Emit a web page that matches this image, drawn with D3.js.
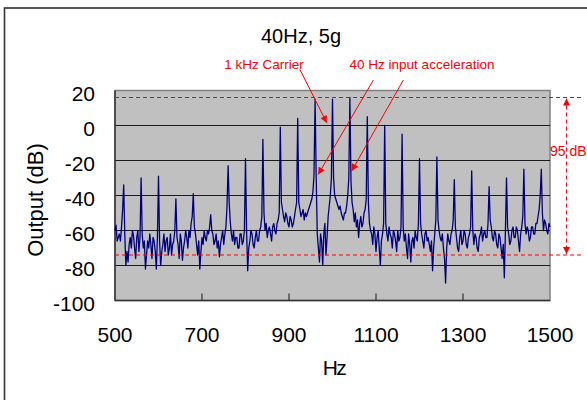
<!DOCTYPE html>
<html>
<head>
<meta charset="utf-8">
<script src="https://cdn.jsdelivr.net/npm/d3@7"></script>
<style>
body { margin: 0; background: #fff; }
text { font-family: "Liberation Sans", Arial, sans-serif; }
</style>
</head>
<body>
<div id="chart"></div>
<script>
// spectrum, 500..1500 Hz every 2.5 Hz (one row = 50 Hz)
const freqStart = 500;
const freqEnd = 1500;
const freqStep = 2.5;
const outputDb = [
    -60, -57, -66, -64, -62, -66, -58, -48, -34, -62, -80, -72, -78, -68, -64, -70, -60, -63, -70, -76,
    -64, -60, -72, -64, -30, -62, -70, -66, -82, -74, -66, -70, -62, -68, -76, -64, -66, -72, -82, -64,
    -29, -66, -80, -72, -68, -62, -72, -66, -64, -74, -70, -62, -74, -68, -66, -60, -42, -64, -68, -76,
    -62, -66, -77, -70, -66, -60, -64, -70, -60, -64, -56, -52, -39, -58, -62, -68, -74, -66, -82, -72,
    -64, -68, -60, -64, -66, -60, -62, -58, -51, -60, -62, -68, -66, -62, -70, -66, -75, -68, -64, -60,
    -68, -62, -58, -46, -23, -44, -55, -62, -66, -60, -68, -64, -64, -70, -70, -62, -62, -68, -66, -60,
    -19, -60, -83, -70, -66, -60, -62, -68, -70, -64, -60, -66, -66, -60, -58, -52, -8, -50, -60, -56,
    -64, -60, -58, -62, -66, -58, -56, -60, -62, -56, -54, -50, -1, -44, -48, -52, -55, -50, -52, -56,
    -58, -52, -54, -58, -56, -52, -48, -44, 4, -44, -48, -52, -50, -48, -54, -50, -52, -50, -48, -46,
    -44, -42, -38, -28, 15, -30, -62, -70, -78, -62, -66, -80, -62, -56, -74, -64, -52, -46, -40, -30,
    15, -30, -40, -42, -44, -46, -48, -46, -50, -52, -54, -50, -50, -46, -40, -30, 16, -32, -44, -48,
    -55, -50, -58, -54, -64, -56, -52, -58, -56, -50, -48, -42, 5, -44, -56, -60, -62, -68, -58, -62,
    -72, -64, -60, -70, -80, -66, -62, -56, 0, -56, -62, -66, -58, -62, -64, -70, -60, -62, -66, -72,
    -60, -66, -64, -58, -5, -58, -66, -62, -70, -76, -62, -68, -78, -66, -64, -70, -60, -64, -66, -56,
    -19, -56, -62, -66, -70, -62, -60, -66, -64, -68, -72, -66, -83, -70, -62, -54, -18, -54, -60, -64,
    -66, -62, -70, -76, -90, -70, -62, -66, -68, -62, -60, -54, -31, -58, -64, -70, -72, -64, -60, -68,
    -66, -60, -62, -68, -70, -64, -62, -58, -26, -60, -68, -62, -64, -70, -72, -64, -62, -58, -66, -62,
    -60, -64, -64, -56, -35, -54, -58, -64, -66, -60, -62, -68, -70, -62, -64, -70, -76, -68, -87, -60,
    -30, -58, -62, -68, -66, -60, -58, -64, -64, -58, -60, -66, -72, -62, -58, -52, -25, -56, -62, -58,
    -60, -66, -64, -58, -58, -62, -62, -56, -56, -52, -48, -40, -25, -50, -60, -54, -56, -60, -62, -56,
    -58
];
const yTicks = [20, 0, -20, -40, -60, -80, -100];
const xTicks = [500, 700, 900, 1100, 1300, 1500];
const refLevels = [16, -74];
const spanLabel = '95 dB';
const spanFreq = 1538;

// annotation arrows: [from freq, from dB, to freq, to dB]
const carrierArrows = [[925, 32, 987, 1.5]];
const inputArrows = [[1094, 26, 967, -28], [1163, 26, 1044, -26]];

const width = 587, height = 400;
const margin = { left: 115, top: 90.5, right: 37, bottom: 99.5 };

const x = d3.scaleLinear().domain([freqStart, freqEnd]).range([margin.left, width - margin.right]);
const y = d3.scaleLinear().domain([-100, 20]).range([height - margin.bottom, margin.top]);

const data = outputDb.map((v, i) => ({ f: freqStart + i * freqStep, v: v }));

const svg = d3.select('#chart').append('svg')
    .attr('width', width)
    .attr('height', height);

const red = '#ff0000';
svg.append('defs').append('marker')
    .attr('id', 'head')
    .attr('viewBox', '0 0 10 10')
    .attr('refX', 10).attr('refY', 5)
    .attr('markerWidth', 8).attr('markerHeight', 7)
    .attr('markerUnits', 'userSpaceOnUse')
    .attr('orient', 'auto-start-reverse')
    .append('path').attr('d', 'M0,0L10,5L0,10z').attr('fill', red);

// outer chart frame
svg.append('rect')
    .attr('x', 4.5).attr('y', 8)
    .attr('width', 700).attr('height', 500)
    .attr('fill', 'none').attr('stroke', '#333').attr('stroke-width', 1.6);

// plot area
const x0 = x(freqStart), x1 = x(freqEnd), yTop = y(20), yBot = y(-100);
svg.append('rect')
    .attr('x', x0).attr('y', yTop)
    .attr('width', x1 - x0).attr('height', yBot - yTop)
    .attr('fill', '#c0c0c0').attr('stroke', '#808080').attr('stroke-width', 1.5);

svg.append('g')
    .selectAll('line').data(yTicks.filter(d => d > -100 && d < 20))
    .enter().append('line')
    .attr('x1', x0).attr('x2', x1)
    .attr('y1', d => y(d)).attr('y2', d => y(d))
    .attr('stroke', '#1a1a1a').attr('stroke-width', 1.2);

// axes lines
svg.append('line').attr('x1', x0).attr('x2', x0).attr('y1', yTop).attr('y2', yBot)
    .attr('stroke', '#333').attr('stroke-width', 1.5);
svg.append('line').attr('x1', x0).attr('x2', x1).attr('y1', yBot).attr('y2', yBot)
    .attr('stroke', '#333').attr('stroke-width', 1.5);

svg.append('g')
    .selectAll('line').data(xTicks.slice(1, -1))
    .enter().append('line')
    .attr('x1', d => x(d)).attr('x2', d => x(d))
    .attr('y1', yBot).attr('y2', yBot - 7)
    .attr('stroke', '#333').attr('stroke-width', 1.2);

// tick labels
svg.append('g')
    .selectAll('text').data(yTicks)
    .enter().append('text')
    .attr('x', 95).attr('y', d => y(d) + 3)
    .attr('dy', '0.35em')
    .attr('text-anchor', 'end')
    .attr('font-size', 21)
    .text(d => d);

svg.append('g')
    .selectAll('text').data(xTicks)
    .enter().append('text')
    .attr('x', d => x(d)).attr('y', 335)
    .attr('dy', '0.35em')
    .attr('text-anchor', 'middle')
    .attr('font-size', 21)
    .text(d => d);

svg.append('text')
    .attr('transform', 'translate(35,200) rotate(-90)')
    .attr('dy', '0.35em')
    .attr('text-anchor', 'middle')
    .attr('font-size', 22)
    .text('Output (dB)');

svg.append('text')
    .attr('x', 334).attr('y', 368)
    .attr('dy', '0.35em')
    .attr('text-anchor', 'middle')
    .attr('font-size', 21)
    .attr('letter-spacing', -1.5)
    .text('Hz');

svg.append('text')
    .attr('x', 301).attr('y', 36)
    .attr('dy', '0.35em')
    .attr('text-anchor', 'middle')
    .attr('font-size', 20)
    .text('40Hz, 5g');

// spectrum
svg.append('path')
    .datum(data)
    .attr('fill', 'none')
    .attr('stroke', '#000080')
    .attr('stroke-width', 1.3)
    .attr('stroke-linejoin', 'round')
    .attr('d', d3.line().x(d => x(d.f)).y(d => y(d.v)));

// reference levels
svg.append('g')
    .selectAll('line').data(refLevels)
    .enter().append('line')
    .attr('x1', x0).attr('x2', 581)
    .attr('y1', d => y(d)).attr('y2', d => y(d))
    .attr('stroke', red).attr('stroke-width', 1)
    .attr('stroke-dasharray', '4,3');

svg.append('line')
    .attr('x1', x(spanFreq)).attr('x2', x(spanFreq))
    .attr('y1', y(refLevels[0]) + 1).attr('y2', y(refLevels[1]) - 1)
    .attr('stroke', red).attr('stroke-width', 1)
    .attr('stroke-dasharray', '4,3')
    .attr('marker-start', 'url(#head)')
    .attr('marker-end', 'url(#head)');

svg.append('text')
    .attr('x', 550).attr('y', 151)
    .attr('dy', '0.35em')
    .attr('font-size', 14)
    .attr('fill', red)
    .text(spanLabel);

// annotations
svg.append('text')
    .attr('x', 264).attr('y', 64)
    .attr('dy', '0.35em')
    .attr('text-anchor', 'middle')
    .attr('font-size', 13.5)
    .attr('fill', red)
    .text('1 kHz Carrier');

svg.append('text')
    .attr('x', 422).attr('y', 64)
    .attr('dy', '0.35em')
    .attr('text-anchor', 'middle')
    .attr('font-size', 13.5)
    .attr('fill', red)
    .text('40 Hz input acceleration');

svg.append('g')
    .selectAll('line').data(carrierArrows.concat(inputArrows))
    .enter().append('line')
    .attr('x1', d => x(d[0])).attr('y1', d => y(d[1]))
    .attr('x2', d => x(d[2])).attr('y2', d => y(d[3]))
    .attr('stroke', red).attr('stroke-width', 1)
    .attr('marker-end', 'url(#head)');
</script>
</body>
</html>
